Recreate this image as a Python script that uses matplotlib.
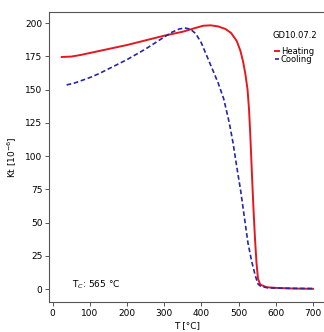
import matplotlib
matplotlib.use("Agg")
import matplotlib.pyplot as plt

# Heating curve (T in °C, Kt in 1e-6)
heat_T = [25, 50, 75, 100, 150, 200, 250, 300, 350, 380, 405, 425, 445, 465,
          480, 495, 505, 512, 518, 524, 528, 532, 536, 540, 544, 548, 552,
          558, 575, 600, 650, 700]
heat_K = [174.5, 174.8, 176, 177.5, 180.5, 183.5, 187, 190.5, 193.5, 196,
          198, 198.3, 197.5, 195.5, 192.5, 186.5, 179, 171, 162, 150, 135,
          112, 85, 60, 38, 20, 8, 3.5, 1.5, 1, 0.5, 0.3]

# Cooling curve
cool_T = [38, 60, 80, 100, 125, 150, 175, 200, 225, 250, 275, 300, 320, 340,
          355, 370, 385, 400, 415, 430, 445, 460, 475, 485, 495, 505, 515,
          525, 535, 545, 552, 560, 580, 620, 700]
cool_K = [153.5, 155, 157, 159, 162, 165.5, 169, 172.5, 176.5, 180.5, 185,
          189.5, 193, 195.5, 196.3, 195.5, 192, 185, 175, 165, 155, 143, 125,
          110, 92, 75, 55, 35, 21, 10, 4, 2, 1, 0.7, 0.5]

sample = "GD10.07.2"
curie_T = 565

fig = plt.figure(figsize=(3.24, 3.32), dpi=100)
ax = fig.add_axes([0.152, 0.0904, 0.853, 0.873])

ax.plot(heat_T, heat_K, color="#e4191f", lw=1.4, label="Heating")
ax.plot(cool_T, cool_K, color="#2626a8", lw=1.2, ls=(0, (2.8, 1.6)), label="Cooling")

for s in ax.spines.values():
    s.set_color("#555555")
ax.tick_params(labelsize=6.5, length=3, width=0.7, color="#555555", pad=2)
ax.set_xticks(range(0, 701, 100))
ax.set_yticks(range(0, 201, 25))

ax.set_xlabel("T [°C]", fontsize=6.5, labelpad=2)
ax.set_ylabel("Kt [10$^{-6}$]", fontsize=6.5, labelpad=4)

leg = ax.legend(title=sample, loc="upper right", frameon=False, fontsize=6,
                title_fontsize=6, handlelength=0.45, handletextpad=0.2,
                labelspacing=-0.1, borderaxespad=0.3, bbox_to_anchor=(0.99, 0.955))
leg._legend_box.sep = 5

ax.text(0.083, 0.06, "T$_C$: %d °C" % curie_T, transform=ax.transAxes,
        fontsize=6.5, va="center")

fig.savefig("out.png", dpi=100)
